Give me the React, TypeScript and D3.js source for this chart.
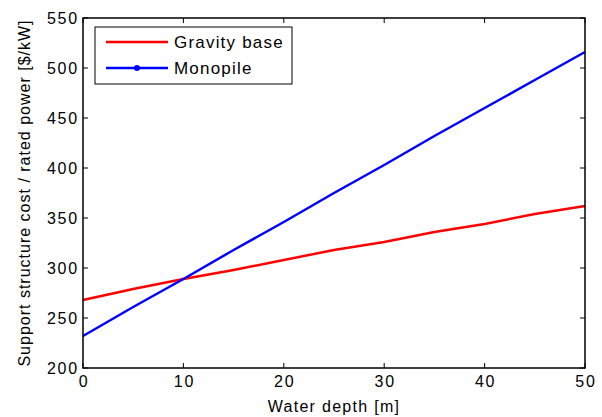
import React from 'react';
import * as d3 from 'd3';

const depths = [0, 5, 10, 15, 20, 25, 30, 35, 40, 45, 50];
const gravityBase = [268, 279, 289, 298, 308, 318, 326, 336, 344, 354, 362];
const monopile = [232, 261, 289, 318, 346, 375, 403, 432, 460, 488, 516];
const xTicks = [0, 10, 20, 30, 40, 50];
const yTicks = [200, 250, 300, 350, 400, 450, 500, 550];

const width = 602;
const height = 417;
const margin = { top: 18, right: 17, bottom: 49, left: 83 };
const font = '"Liberation Sans", Arial, sans-serif';

export default function App() {
  const x = d3.scaleLinear().domain([0, 50]).range([margin.left, width - margin.right]);
  const y = d3.scaleLinear().domain([200, 550]).range([height - margin.bottom, margin.top]);

  const line = d3.line<number>()
    .x((d, i) => x(depths[i]))
    .y((d) => y(d));

  const series = [
    { name: 'Gravity base', values: gravityBase, color: '#ff0000', marker: false },
    { name: 'Monopile', values: monopile, color: '#0000ff', marker: true },
  ];

  const [x0, x1] = x.range();
  const [y0, y1] = y.range();
  const tick = 5;

  return (
    <svg width={width} height={height} style={{ position: 'absolute', left: 0, top: 0 }}>
      <rect x={0} y={0} width={width} height={height} fill="#fff" />
      {/* data lines */}
      {series.map((s) => (
        <path key={s.name} d={line(s.values) || ''} fill="none" stroke={s.color} strokeWidth={2.5} />
      ))}
      {/* axes box */}
      <rect x={x0} y={y1} width={x1 - x0} height={y0 - y1} fill="none" stroke="#000" strokeWidth={1.5} />
      {xTicks.map((t) => (
        <g key={'x' + t}>
          <line x1={x(t)} x2={x(t)} y1={y0} y2={y0 - tick} stroke="#000" />
          <line x1={x(t)} x2={x(t)} y1={y1} y2={y1 + tick} stroke="#000" />
          <text x={x(t) + 1} y={y0 + 19} textAnchor="middle" fontFamily={font} fontSize={16} letterSpacing={1.8}>{t}</text>
        </g>
      ))}
      {yTicks.map((t) => (
        <g key={'y' + t}>
          <line x1={x0} x2={x0 + tick} y1={y(t)} y2={y(t)} stroke="#000" />
          <line x1={x1} x2={x1 - tick} y1={y(t)} y2={y(t)} stroke="#000" />
          <text x={x0 - 4} y={y(t) + 6} textAnchor="end" fontFamily={font} fontSize={16} letterSpacing={1.8}>{t}</text>
        </g>
      ))}
      <text x={(x0 + x1) / 2} y={height - 5} textAnchor="middle" fontFamily={font} fontSize={16} letterSpacing={1.3}>Water depth [m]</text>
      <text transform={`translate(30, ${(y0 + y1) / 2}) rotate(-90)`} textAnchor="middle" fontFamily={font} fontSize={16} letterSpacing={1}>
        Support structure cost / rated power [$/kW]
      </text>
      {/* legend */}
      <g>
        <rect x={95} y={27} width={197} height={57} fill="#fff" stroke="#000" strokeWidth={1} />
        {series.map((s, i) => {
          const ly = 42 + i * 26;
          return (
            <g key={'l' + s.name}>
              <line x1={106} x2={168} y1={ly} y2={ly} stroke={s.color} strokeWidth={2.5} />
              {s.marker && <circle cx={137} cy={ly} r={3} fill={s.color} />}
              <text x={174} y={ly + 6} fontFamily={font} fontSize={17} letterSpacing={1.2}>{s.name}</text>
            </g>
          );
        })}
      </g>
    </svg>
  );
}
